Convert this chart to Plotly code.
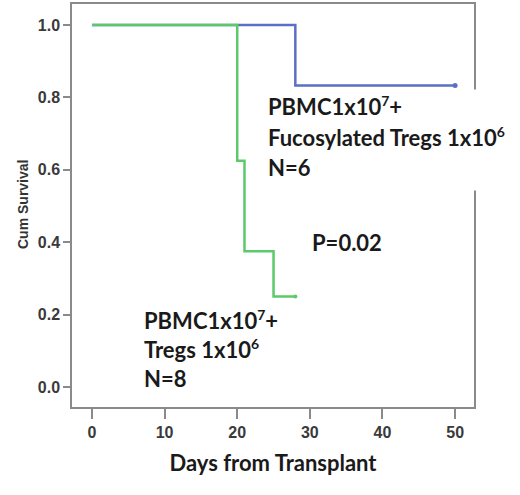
import plotly.graph_objects as go

# Kaplan-Meier steps
fuco_days = [0, 28, 50]
fuco_surv = [1.0, 0.833, 0.833]
fuco_cens_day = [50]
fuco_cens_surv = [0.833]

tregs_days = [0, 20, 21, 25, 28]
tregs_surv = [1.0, 0.625, 0.375, 0.25, 0.25]
tregs_cens_day = [28]
tregs_cens_surv = [0.25]

x_ticks = [0, 10, 20, 30, 40, 50]
y_ticks = [0.0, 0.2, 0.4, 0.6, 0.8, 1.0]

colors = {'fuco': '#5b70c4', 'tregs': '#5cc96b', 'frame': '#8a8a8a'}
label_font = dict(family='Lato', size=22, color='#1a1a1a', weight='bold')
tick_font = dict(family='Liberation Sans', size=16, color='#3a3a3a', weight='bold')
sup7 = '<sup><span style="font-size:14px">7</span></sup>'
sup6 = '<sup><span style="font-size:14px">6</span></sup>'

fig = go.Figure()

fig.add_trace(go.Scatter(x=fuco_days, y=fuco_surv, mode='lines', line_shape='hv',
                         line=dict(color=colors['fuco'], width=2.5), showlegend=False))
fig.add_trace(go.Scatter(x=fuco_cens_day, y=fuco_cens_surv, mode='markers',
                         marker=dict(color=colors['fuco'], size=5), showlegend=False))
fig.add_trace(go.Scatter(x=tregs_days, y=tregs_surv, mode='lines', line_shape='hv',
                         line=dict(color=colors['tregs'], width=2.5), showlegend=False))
fig.add_trace(go.Scatter(x=tregs_cens_day, y=tregs_cens_surv, mode='markers',
                         marker=dict(color=colors['tregs'], size=4), showlegend=False))

# white box behind the top label (it hides a piece of the frame)
fig.add_annotation(xref='paper', yref='paper', x=(262 - 72) / 402, y=(407 - 89) / 403,
                   xanchor='left', yanchor='top', text='', showarrow=False,
                   width=258, height=98, bgcolor='white')


def add_lines(lines, x_px, mid_px, step):
    for i, t in enumerate(lines):
        fig.add_annotation(xref='paper', yref='paper',
                           x=(x_px - 72) / 402, y=(407 - (mid_px + i * step)) / 403,
                           xanchor='left', yanchor='middle', text=t, showarrow=False,
                           font=label_font)


add_lines(['PBMC1x10' + sup7 + '+', 'Fucosylated Tregs 1x10' + sup6, 'N=6'], 266, 106, 31)
add_lines(['PBMC1x10' + sup7 + '+', 'Tregs 1x10' + sup6, 'N=8'], 142, 320, 29)
add_lines(['P=0.02'], 310, 243, 0)

fig.add_annotation(xref='paper', yref='paper', x=(23 - 72) / 402, y=(407 - 205) / 403,
                   xanchor='center', yanchor='middle',
                   text='Cum Survival', textangle=-90, showarrow=False,
                   font=dict(family='Liberation Sans', size=14, color='#333333', weight='bold'))

fig.update_layout(
    width=520, height=495,
    margin=dict(l=72, r=46, t=4, b=88),
    paper_bgcolor='white', plot_bgcolor='white',
    xaxis=dict(range=[-2.75, 52.6], tickvals=x_ticks, ticks='outside', ticklen=10,
               tickwidth=1.5, tickcolor=colors['frame'], showgrid=False, zeroline=False,
               showline=True, linecolor=colors['frame'], linewidth=1.5, mirror=True,
               automargin=False, tickfont=tick_font,
               title=dict(text='Days from Transplant', standoff=16,
                          font=dict(family='Lato', size=22, color='#1a1a1a', weight='bold'))),
    yaxis=dict(range=[-0.055, 1.058], tickvals=y_ticks, tickformat='.1f', ticks='outside',
               ticklen=7, tickwidth=1.5, tickcolor=colors['frame'], showgrid=False,
               zeroline=False, showline=True, linecolor=colors['frame'], linewidth=1.5,
               mirror=True, automargin=False, tickfont=tick_font),
)

# page body has a default 8px margin; drop it so the figure sits at the corner
fig.write_html("out.html", config={'displayModeBar': False},
               post_script="document.body.style.margin='0';")
